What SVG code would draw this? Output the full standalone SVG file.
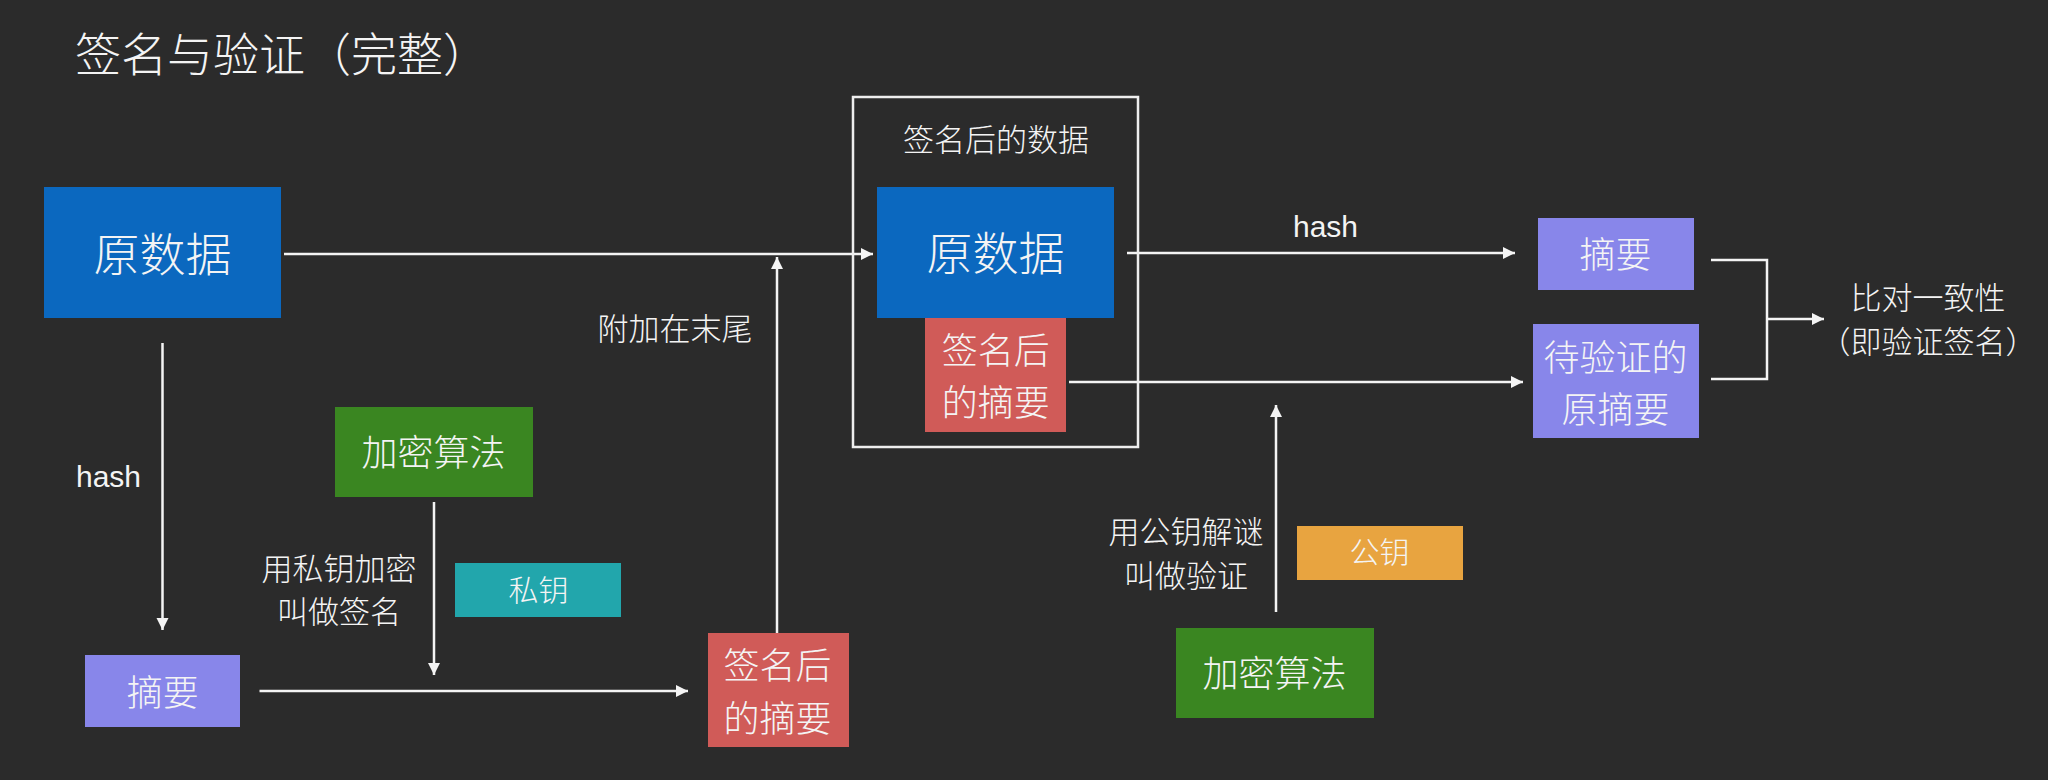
<svg xmlns="http://www.w3.org/2000/svg" width="2048" height="780" viewBox="0 0 2048 780">
<style>
.t{font-family:"Noto Sans CJK SC","Noto Sans",sans-serif;font-weight:300;fill:#f4f4f4;text-anchor:middle}
.l{font-family:"Liberation Sans","Noto Sans",sans-serif;fill:#f4f4f4;text-anchor:middle;font-size:30px}
.c{stroke:#f4f4f4;stroke-width:2.5;fill:none}
.blue{fill:#0b68bf}.red{fill:#d05b58}.purple{fill:#8886ea}.green{fill:#3a8621}.teal{fill:#22a6ac}.orange{fill:#e8a440}
</style>
<defs>
<marker id="ah" markerUnits="userSpaceOnUse" markerWidth="13" markerHeight="13" refX="12" refY="6" orient="auto">
<path d="M0,0 L12,6 L0,12 z" fill="#f4f4f4"/>
</marker>
</defs>
<rect width="2048" height="780" fill="#2b2b2b"/>
<text class="t" x="75" y="71" font-size="46" style="text-anchor:start">签名与验证（完整）</text>

<g id="connectors">
<line class="c" x1="284" y1="254" x2="873" y2="254" marker-end="url(#ah)"/>
<line class="c" x1="162.5" y1="343" x2="162.5" y2="630" marker-end="url(#ah)"/>
<line class="c" x1="434" y1="502" x2="434" y2="675" marker-end="url(#ah)"/>
<line class="c" x1="259.5" y1="691" x2="688" y2="691" marker-end="url(#ah)"/>
<line class="c" x1="777" y1="633" x2="777" y2="257" marker-end="url(#ah)"/>
<line class="c" x1="1127" y1="253" x2="1515" y2="253" marker-end="url(#ah)"/>
<line class="c" x1="1069" y1="382" x2="1523" y2="382" marker-end="url(#ah)"/>
<line class="c" x1="1276" y1="612" x2="1276" y2="405" marker-end="url(#ah)"/>
<polyline class="c" points="1711,260 1767,260 1767,379 1711,379"/>
<line class="c" x1="1767" y1="319" x2="1824" y2="319" marker-end="url(#ah)"/>
<text class="l" x="108.5" y="487">hash</text>
<text class="l" x="1325.5" y="237">hash</text>
<text class="t" x="675" y="339.5" font-size="31">附加在末尾</text>
<text class="t" x="339" y="579.5" font-size="31">用私钥加密</text>
<text class="t" x="339" y="622.5" font-size="31">叫做签名</text>
<text class="t" x="1186" y="542.5" font-size="31">用公钥解谜</text>
<text class="t" x="1186" y="586.5" font-size="31">叫做验证</text>
<text class="t" x="1928" y="308.5" font-size="31">比对一致性</text>
<text class="t" x="1928" y="353" font-size="31">（即验证签名）</text>
</g>

<g id="signed-data">
<rect x="853" y="97" width="285" height="350" fill="none" stroke="#eeeeee" stroke-width="2.5"/>
<text class="t" x="996" y="150.5" font-size="31">签名后的数据</text>
</g>
<g id="data1">
<rect class="blue" x="44" y="187" width="237" height="131"/>
<text class="t" x="162.5" y="270.5" font-size="46">原数据</text>
</g>
<g id="data2">
<rect class="blue" x="877" y="187" width="237" height="131"/>
<text class="t" x="995.5" y="270" font-size="46">原数据</text>
</g>
<g id="signed-digest1">
<rect class="red" x="925" y="318" width="141" height="114"/>
<text class="t" x="995.8" y="364.3" font-size="36">签名后</text>
<text class="t" x="995.8" y="416.3" font-size="36">的摘要</text>
</g>
<g id="digest1">
<rect class="purple" x="85" y="655" width="155" height="72"/>
<text class="t" x="162.7" y="705.8" font-size="36">摘要</text>
</g>
<g id="algo1">
<rect class="green" x="335" y="407" width="198" height="90"/>
<text class="t" x="433.4" y="466.3" font-size="36">加密算法</text>
</g>
<g id="private-key">
<rect class="teal" x="455" y="563" width="166" height="54"/>
<text class="t" x="538.5" y="601" font-size="30">私钥</text>
</g>
<g id="signed-digest2">
<rect class="red" x="708" y="633" width="141" height="114"/>
<text class="t" x="777.5" y="678.8" font-size="36">签名后</text>
<text class="t" x="777.5" y="732.3" font-size="36">的摘要</text>
</g>
<g id="public-key">
<rect class="orange" x="1297" y="526" width="166" height="54"/>
<text class="t" x="1379.5" y="563" font-size="30">公钥</text>
</g>
<g id="algo2">
<rect class="green" x="1176" y="628" width="198" height="90"/>
<text class="t" x="1274.5" y="687" font-size="36">加密算法</text>
</g>
<g id="digest2">
<rect class="purple" x="1538" y="218" width="156" height="72"/>
<text class="t" x="1615.5" y="268.3" font-size="36">摘要</text>
</g>
<g id="orig-digest">
<rect class="purple" x="1533" y="324" width="166" height="114"/>
<text class="t" x="1615.5" y="371.3" font-size="36">待验证的</text>
<text class="t" x="1615.5" y="422.8" font-size="36">原摘要</text>
</g>
</svg>
